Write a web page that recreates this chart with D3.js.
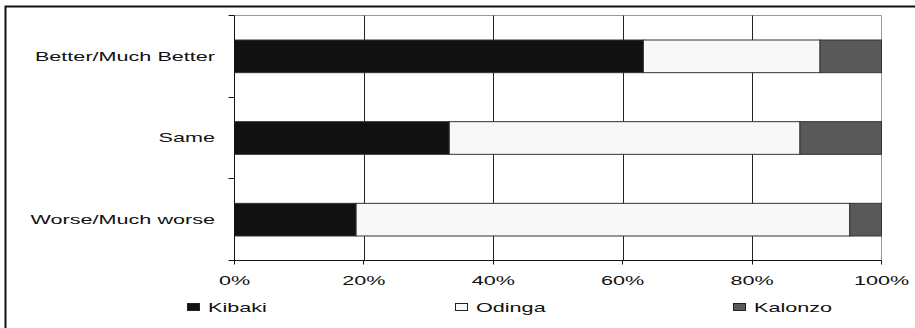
<!DOCTYPE html>
<html>
<head>
<meta charset="utf-8">
<script src="https://cdn.jsdelivr.net/npm/d3@7"></script>
<style>
  html, body { margin: 0; padding: 0; background: #fff; }
  svg { display: block; }
  text { font-family: "Liberation Sans", Arial, sans-serif; fill: #111; }
</style>
</head>
<body>
<svg id="chart" width="915" height="328"></svg>
<script>
// Preferred candidate by perceived change in situation
const categories = ["Better/Much Better", "Same", "Worse/Much worse"];
const seriesNames = ["Kibaki", "Odinga", "Kalonzo"];
const kibaki  = [63.2, 33.2, 18.8];
const odinga  = [27.3, 54.2, 76.3];
const kalonzo = [9.5, 12.6, 4.9];
const xTicks = [0, 0.2, 0.4, 0.6, 0.8, 1.0];
const seriesColors = ["#111111", "#f8f8f8", "#595959"];

const rows = categories.map((c, i) => ({
  category: c, Kibaki: kibaki[i], Odinga: odinga[i], Kalonzo: kalonzo[i]
}));

const svg = d3.select("#chart");
const plotLeft = 234.5, plotRight = 881.5, plotTop = 15.5, plotBottom = 260.5;
const FONT = 12, STRETCH = 1.8;

// Text drawn with a wide horizontal aspect
function wideText(g, px, py, str, anchor) {
  return g.append("text")
    .attr("transform", `translate(${px},${py}) scale(${STRETCH},1)`)
    .attr("text-anchor", anchor)
    .style("font-size", FONT + "px")
    .text(str);
}

// Outer frame
svg.append("rect")
  .attr("x", 5.5).attr("y", 6.5).attr("width", 940).attr("height", 340)
  .attr("fill", "none").attr("stroke", "#111").attr("stroke-width", 2);

const x = d3.scaleLinear().domain([0, 1]).range([plotLeft, plotRight]);
const yBand = d3.scaleBand().domain(categories).range([plotTop, plotBottom])
  .paddingInner(0.6).paddingOuter(0.3);
const yEdges = d3.scaleBand().domain(categories).range([plotTop, plotBottom]).padding(0);

// Plot frame (top and right edges)
svg.append("path")
  .attr("d", `M${plotLeft},${plotTop}H${plotRight}V${plotBottom}`)
  .attr("fill", "none").attr("stroke", "#999").attr("stroke-width", 1);

// Vertical gridlines
svg.append("g").selectAll("line")
  .data(xTicks.filter(t => t > 0 && t < 1))
  .join("line")
  .attr("x1", d => Math.round(x(d)) + 0.5).attr("x2", d => Math.round(x(d)) + 0.5)
  .attr("y1", plotTop).attr("y2", plotBottom)
  .attr("stroke", "#222").attr("stroke-width", 1);

// Stacked bars (shares of 100)
const stacked = d3.stack().keys(seriesNames)(rows);
svg.append("g").selectAll("g")
  .data(stacked)
  .join("g")
  .attr("fill", (d, i) => seriesColors[i])
  .selectAll("rect")
  .data(d => d)
  .join("rect")
  .attr("x", d => x(d[0] / 100))
  .attr("width", d => x(d[1] / 100) - x(d[0] / 100))
  .attr("y", d => yBand(d.data.category))
  .attr("height", yBand.bandwidth())
  .attr("stroke", "#333").attr("stroke-width", 1);

// Y axis line and category boundary ticks
svg.append("line")
  .attr("x1", plotLeft).attr("x2", plotLeft).attr("y1", plotTop).attr("y2", plotBottom)
  .attr("stroke", "#111").attr("stroke-width", 1);
const edges = categories.map(c => yEdges(c)).concat([plotBottom]);
svg.append("g").selectAll("line")
  .data(edges)
  .join("line")
  .attr("x1", plotLeft - 6).attr("x2", plotLeft)
  .attr("y1", d => Math.floor(d) + 0.5).attr("y2", d => Math.floor(d) + 0.5)
  .attr("stroke", "#111").attr("stroke-width", 1);

// X axis
svg.append("line")
  .attr("x1", plotLeft).attr("x2", plotRight).attr("y1", plotBottom).attr("y2", plotBottom)
  .attr("stroke", "#111").attr("stroke-width", 1);
svg.append("g").selectAll("line")
  .data(xTicks)
  .join("line")
  .attr("x1", d => Math.floor(x(d)) + 0.5).attr("x2", d => Math.floor(x(d)) + 0.5)
  .attr("y1", plotBottom).attr("y2", plotBottom + 4)
  .attr("stroke", "#111").attr("stroke-width", 1);
const fmt = d3.format(".0%");
const xLab = svg.append("g");
xTicks.forEach(t => wideText(xLab, x(t), 285, fmt(t), "middle"));

// Category labels
const yLab = svg.append("g");
categories.forEach(c => {
  wideText(yLab, 215, yBand(c) + yBand.bandwidth() / 2 + 4.3, c, "end");
});

// Legend
const legendX = [187, 455, 733];
const legend = svg.append("g");
seriesNames.forEach((name, i) => {
  legend.append("rect")
    .attr("x", legendX[i] + 0.5).attr("y", 303.5).attr("width", 12).attr("height", 7)
    .attr("fill", seriesColors[i]).attr("stroke", "#222").attr("stroke-width", 1);
  wideText(legend, legendX[i] + 21, 312, name, "start");
});
</script>
</body>
</html>
